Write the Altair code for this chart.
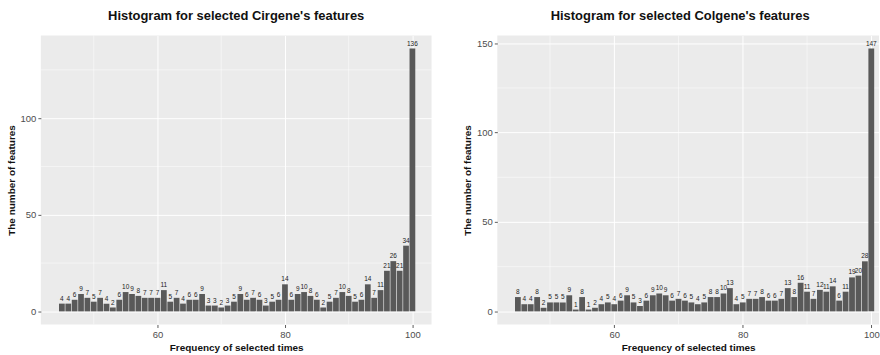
import altair as alt
import pandas as pd

FREQ = list(range(45, 101))

CIR_COUNTS = [4, 4, 6, 9, 7, 5, 7, 4, 2, 6, 10, 9, 8, 7, 7, 7, 11, 5, 7, 4,
              6, 6, 9, 3, 3, 2, 3, 5, 9, 6, 7, 6, 3, 5, 6, 14, 6, 9, 10, 8,
              6, 2, 5, 7, 10, 8, 5, 6, 14, 7, 11, 21, 26, 21, 34, 136]

COL_COUNTS = [8, 4, 4, 8, 2, 5, 5, 5, 9, 1, 8, 1, 2, 4, 5, 4, 6, 9, 5, 3,
              6, 9, 10, 9, 6, 7, 6, 5, 4, 5, 8, 8, 10, 13, 4, 5, 7, 7, 8, 6,
              6, 7, 13, 8, 16, 11, 7, 12, 11, 14, 6, 11, 19, 20, 28, 147]

TITLE_CIR = "Histogram for selected Cirgene's features"
TITLE_COL = "Histogram for selected Colgene's features"
X_TITLE = "Frequency of selected times"
Y_TITLE = "The number of features"

X_MAJOR = [60, 80, 100]
X_MINOR = [50, 70, 90]
Y_MAJOR_CIR = [0, 50, 100]
Y_MAJOR_COL = [0, 50, 100, 150]
Y_MINOR = [25, 75, 125]

FONT = "Liberation Sans"


def panel(counts, title, ydom, ymajor, xdom, width, height, title_dx):
    df = pd.DataFrame({"freq": FREQ, "count": counts})
    xs = alt.Scale(domain=xdom, nice=False, zero=False)
    ys = alt.Scale(domain=ydom, nice=False, zero=False)
    xax = alt.Axis(values=X_MAJOR, title=X_TITLE, format="d")
    yax = alt.Axis(values=ymajor, title=Y_TITLE, format="d")

    minor_y = alt.Chart(pd.DataFrame({"v": Y_MINOR})).mark_rule(
        color="white", strokeWidth=0.5
    ).encode(y=alt.Y("v:Q", scale=ys, axis=yax))
    minor_x = alt.Chart(pd.DataFrame({"v": X_MINOR})).mark_rule(
        color="white", strokeWidth=0.5
    ).encode(x=alt.X("v:Q", scale=xs, axis=xax))

    bars = alt.Chart(df).transform_calculate(
        x0="datum.freq - 0.45", x1="datum.freq + 0.45"
    ).mark_bar(color="#595959").encode(
        x=alt.X("x0:Q", scale=xs, axis=xax),
        x2="x1:Q",
        y=alt.Y("count:Q", scale=ys, axis=yax),
        y2=alt.datum(0),
    )

    labels = alt.Chart(df).mark_text(
        dy=-2, fontSize=6.5, baseline="bottom", color="#222222", font=FONT
    ).encode(
        x=alt.X("freq:Q", scale=xs, axis=xax),
        y=alt.Y("count:Q", scale=ys, axis=yax),
        text="count:Q",
    )

    return alt.layer(minor_y, minor_x, bars, labels).properties(
        width=width,
        height=height,
        title=alt.TitleParams(title, anchor="middle", frame="group",
                              fontSize=13, font=FONT, fontWeight="bold",
                              color="#111111", offset=12, dx=title_dx),
    )


left = panel(CIR_COUNTS, TITLE_CIR, [-6.8, 142.8], Y_MAJOR_CIR,
             [41.7, 103.0], 392, 290, 0)
right = panel(COL_COUNTS, TITLE_COL, [-7.35, 154.35], Y_MAJOR_COL,
              [41.8, 101.2], 383, 290, -8)

chart = alt.hconcat(left, right, spacing=30).properties(
    padding={"left": 6, "top": 9, "right": 0, "bottom": 0},
    background="white",
).configure_view(
    fill="#EBEBEB", stroke=None
).configure_axis(
    grid=True, gridColor="white", gridWidth=1,
    domain=False, tickColor="#333333", tickSize=3, tickWidth=0.8,
    labelColor="#4D4D4D", labelFontSize=9.5, labelFont=FONT, labelPadding=2,
    titleFont=FONT, titleFontSize=10, titleFontWeight="bold", titleColor="#111111",
    titlePadding=4,
)

chart.save("out.html", embed_options={"renderer": "svg", "actions": False})
